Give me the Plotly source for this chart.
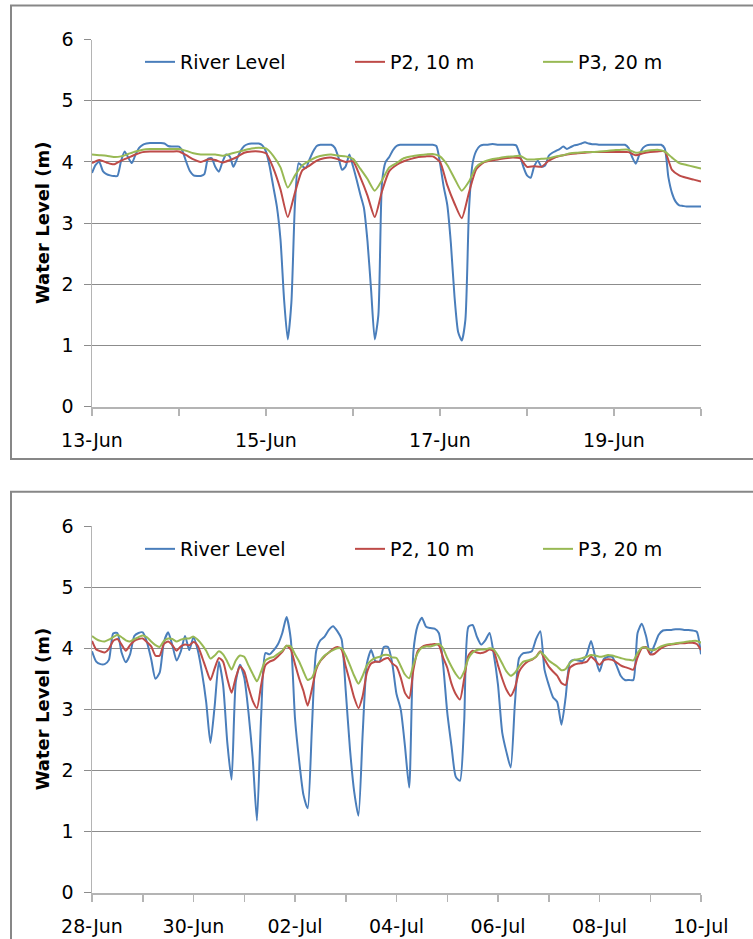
import pandas as pd
import plotly.graph_objects as go

# ---------------- Data: 13-Jun to 20-Jun ----------------
top_start = "2013-06-13"
top_river = [3.82, 3.95, 4.00, 3.85, 3.80, 3.78, 3.77, 3.77, 4.01, 4.17, 4.07,
             3.98, 4.12, 4.23, 4.28, 4.30, 4.31, 4.31, 4.31, 4.31, 4.30,
             4.26, 4.25, 4.25, 4.25, 4.17, 4.00, 3.85, 3.78, 3.77, 3.77,
             3.80, 4.05, 4.06, 3.92, 3.84, 4.00, 4.12, 4.09, 3.92, 4.05,
             4.18, 4.26, 4.29, 4.30, 4.30, 4.30, 4.27, 4.17, 3.93, 3.60,
             3.27, 2.73, 1.74, 1.10, 1.70, 3.33, 3.98, 3.93, 3.90, 4.04,
             4.17, 4.26, 4.28, 4.28, 4.28, 4.28, 4.23, 4.07, 3.87, 3.93,
             4.12, 3.93, 3.71, 3.47, 3.25, 2.70, 1.90, 1.10, 1.50, 3.66,
             4.00, 4.08, 4.19, 4.26, 4.28, 4.28, 4.28, 4.28, 4.28, 4.28,
             4.28, 4.28, 4.28, 4.28, 4.26, 3.98, 3.60, 3.30, 2.67, 1.80,
             1.22, 1.08, 1.42, 3.22, 3.98, 4.18, 4.26, 4.28, 4.28, 4.29,
             4.29, 4.28, 4.28, 4.28, 4.28, 4.28, 4.27, 4.12, 3.92, 3.78,
             3.74, 3.93, 4.02, 3.92, 3.94, 4.10, 4.15, 4.18, 4.21, 4.25,
             4.21, 4.24, 4.27, 4.28, 4.30, 4.32, 4.30, 4.29, 4.29, 4.28,
             4.28, 4.28, 4.28, 4.28, 4.28, 4.28, 4.28, 4.23, 4.08, 3.97,
             4.12, 4.23, 4.27, 4.28, 4.28, 4.28, 4.28, 4.22, 3.75, 3.49,
             3.35, 3.29, 3.28, 3.27, 3.27, 3.27, 3.27, 3.27]
top_p2 = [3.98, 4.03, 3.99, 3.96, 4.02, 4.07, 4.12, 4.16, 4.17, 4.17, 4.17, 4.17, 4.17,
          4.11, 4.04, 4.00, 4.04, 4.03, 3.99, 4.03, 4.08, 4.15, 4.17, 4.17, 4.14,
          3.90, 3.55, 3.10, 3.50, 3.86, 3.94, 4.02, 4.06, 4.07, 4.04, 4.00, 4.01,
          3.75, 3.45, 3.10, 3.52, 3.85, 3.95, 4.01, 4.05, 4.08, 4.09, 4.09, 4.00,
          3.62, 3.32, 3.08, 3.50, 3.88, 3.99, 4.02, 4.04, 4.06, 4.07, 4.06, 3.92,
          3.93, 3.92, 4.02, 4.08, 4.11, 4.13, 4.14, 4.15, 4.16, 4.16, 4.16, 4.16,
          4.16, 4.16, 4.11, 4.14, 4.16, 4.17, 4.17, 3.87, 3.78, 3.74, 3.71, 3.68]
top_p3 = [4.12, 4.11, 4.10, 4.08, 4.09, 4.13, 4.17, 4.20, 4.21, 4.21, 4.21, 4.21, 4.21,
          4.18, 4.14, 4.12, 4.12, 4.12, 4.10, 4.13, 4.16, 4.19, 4.22, 4.23, 4.22,
          4.10, 3.91, 3.58, 3.78, 3.94, 4.02, 4.08, 4.11, 4.12, 4.10, 4.09, 4.05,
          3.89, 3.72, 3.53, 3.70, 3.91, 3.98, 4.06, 4.09, 4.11, 4.12, 4.13, 4.09,
          3.95, 3.73, 3.53, 3.68, 3.92, 4.00, 4.04, 4.06, 4.08, 4.09, 4.10, 4.04,
          4.04, 4.05, 4.06, 4.09, 4.11, 4.14, 4.15, 4.16, 4.16, 4.17, 4.18, 4.19,
          4.20, 4.20, 4.15, 4.17, 4.19, 4.20, 4.17, 4.07, 3.98, 3.95, 3.92, 3.89]

# ---------------- Data: 28-Jun to 10-Jul ----------------
bot_start = "2013-06-28"
bot_river = [3.95, 3.78, 3.74, 3.74, 3.81, 4.24, 4.25, 3.93, 3.77, 3.90,
             4.20, 4.25, 4.26, 4.10, 3.82, 3.50, 3.60, 4.10, 4.26, 4.05,
             3.80, 3.95, 4.20, 3.97, 4.18, 3.97, 3.60, 3.12, 2.45, 3.05,
             3.78, 3.40, 2.45, 1.85, 3.45, 3.73, 3.52, 2.95, 2.20, 1.18,
             2.90, 3.92, 3.90, 3.97, 4.07, 4.25, 4.51, 4.15, 2.85, 2.15,
             1.60, 1.38, 2.70, 3.95, 4.13, 4.19, 4.30, 4.36, 4.28, 4.15,
             3.30, 2.35, 1.65, 1.26, 2.60, 3.75, 3.97, 3.79, 3.78, 4.02,
             4.02, 3.75, 3.25, 3.00, 2.40, 1.72, 3.95, 4.37, 4.50, 4.35,
             4.33, 4.32, 4.25, 3.75, 2.95, 2.40, 1.90, 1.83, 2.80, 4.35,
             4.38, 4.19, 4.06, 4.13, 4.25, 3.90, 3.40, 2.62, 2.30, 2.05,
             3.10, 3.84, 3.92, 3.93, 3.95, 4.15, 4.28, 3.65, 3.40, 3.20,
             3.12, 2.75, 3.20, 3.77, 3.81, 3.80, 3.79, 3.90, 4.12, 3.85,
             3.62, 3.82, 3.86, 3.86, 3.72, 3.55, 3.48, 3.48, 3.48, 4.25,
             4.40, 4.20, 3.90, 4.05, 4.22, 4.29, 4.30, 4.30, 4.31, 4.31,
             4.30, 4.30, 4.29, 4.27, 3.90]
bot_p2 = [4.12, 3.98, 3.95, 3.93, 3.99, 4.12, 4.15, 4.06, 3.96, 4.05,
          4.12, 4.15, 4.16, 4.10, 4.03, 3.88, 3.88, 4.07, 4.11, 4.05,
          3.96, 4.03, 4.06, 4.05, 4.10, 4.04, 3.86, 3.66, 3.48, 3.67,
          3.84, 3.78, 3.50, 3.27, 3.52, 3.70, 3.62, 3.36, 3.14, 3.02,
          3.40, 3.72, 3.78, 3.81, 3.87, 3.94, 4.04, 3.98, 3.74, 3.50,
          3.30, 3.06, 3.33, 3.65, 3.79, 3.87, 3.93, 3.99, 4.02, 3.98,
          3.70, 3.45, 3.19, 3.02, 3.22, 3.60, 3.75, 3.78, 3.78, 3.82,
          3.84, 3.75, 3.70, 3.52, 3.27, 3.18, 3.65, 3.95, 4.02, 4.05,
          4.06, 4.07, 4.05, 3.85, 3.68, 3.42, 3.25, 3.16, 3.50, 3.88,
          3.96, 3.93, 3.92, 3.94, 3.98, 3.95, 3.72, 3.50, 3.32, 3.22,
          3.35, 3.62, 3.72, 3.78, 3.81, 3.86, 3.95, 3.82, 3.70, 3.62,
          3.55, 3.43, 3.40, 3.68, 3.73, 3.75, 3.76, 3.78, 3.86, 3.80,
          3.73, 3.80, 3.82, 3.81, 3.77, 3.72, 3.69, 3.67, 3.65, 3.85,
          4.00, 4.02, 3.90, 3.91, 3.97, 4.02, 4.05, 4.06, 4.07, 4.08,
          4.08, 4.09, 4.09, 4.07, 3.97]
bot_p3 = [4.20, 4.15, 4.12, 4.11, 4.14, 4.18, 4.22, 4.18, 4.13, 4.11,
          4.15, 4.18, 4.21, 4.18, 4.11, 4.05, 4.02, 4.12, 4.16, 4.15,
          4.11, 4.14, 4.16, 4.16, 4.19, 4.14, 4.06, 3.96, 3.83, 3.88,
          3.95, 3.90, 3.78, 3.65, 3.80, 3.88, 3.86, 3.72, 3.58, 3.46,
          3.62, 3.80, 3.84, 3.86, 3.91, 3.96, 4.04, 4.03, 3.90, 3.78,
          3.62, 3.48, 3.52, 3.68, 3.80, 3.88, 3.93, 3.97, 4.00, 4.00,
          3.88, 3.72, 3.55, 3.42, 3.55, 3.72, 3.80, 3.84, 3.86, 3.89,
          3.89, 3.85, 3.84, 3.71, 3.57, 3.51, 3.73, 3.92, 4.01, 4.03,
          4.03, 4.05, 4.07, 4.00, 3.84, 3.70, 3.58, 3.50, 3.62, 3.83,
          3.93, 3.97, 3.98, 3.98, 4.00, 3.98, 3.88, 3.75, 3.62, 3.55,
          3.60, 3.70, 3.78, 3.80, 3.82, 3.86, 3.94, 3.88, 3.80, 3.75,
          3.70, 3.64, 3.66, 3.76, 3.81, 3.82, 3.84, 3.86, 3.89, 3.88,
          3.86, 3.87, 3.89, 3.88, 3.86, 3.84, 3.82, 3.81, 3.80, 3.92,
          4.01, 4.01, 3.97, 3.97, 4.01, 4.04, 4.06, 4.07, 4.08, 4.09,
          4.10, 4.11, 4.12, 4.12, 4.09]

series_names = ["River Level", "P2, 10 m", "P3, 20 m"]
series_colors = ["#4A7EBB", "#BE4B48", "#98B954"]

# ---------------- Times ----------------
t_top_river = pd.date_range(top_start, periods=len(top_river), freq="h")
t_top_p = pd.date_range(top_start, periods=len(top_p2), freq="2h")
t_bot = pd.date_range(bot_start, periods=len(bot_river), freq="2h")

W, H = 753, 939
def px_x(p):
    return p / W
def px_y(p):
    return 1 - p / H

fig = go.Figure()

legend_x = [140, 350, 538]
legend_names = [["legend", "legend2", "legend3"], ["legend4", "legend5", "legend6"]]

panels = [
    dict(xa="x", ya="y", data=[(t_top_river, top_river), (t_top_p, top_p2), (t_top_p, top_p3)], leg=legend_names[0]),
    dict(xa="x2", ya="y2", data=[(t_bot, bot_river), (t_bot, bot_p2), (t_bot, bot_p3)], leg=legend_names[1]),
]
for p in panels:
    for (t, v), name, col, lg in zip(p["data"], series_names, series_colors, p["leg"]):
        fig.add_trace(go.Scatter(x=t, y=v, mode="lines", name=name,
                                 line=dict(color=col, width=2, shape="spline", smoothing=0.6),
                                 xaxis=p["xa"], yaxis=p["ya"], legend=lg))

font_family = "DejaVu Sans"
grid_col = "#8C8C8C"
axis_col = "#B4B4B4"

# panel geometry in px
top_y0, top_y1 = 39.5, 406.7
bot_y0, bot_y1 = 526.0, 892.7
x0, x1 = 92.0, 701.0

day_ms = 86400000

def yaxis_cfg(dom, anchor):
    return dict(domain=dom, range=[0, 6], dtick=1, tick0=0, showgrid=True,
                gridcolor=grid_col, gridwidth=1, zeroline=False,
                showline=True, linecolor=axis_col, linewidth=1.5,
                ticks="outside", ticklen=7, tickcolor=grid_col,
                tickfont=dict(family=font_family, size=19, color="#000000"),
                ticklabelstandoff=6, anchor=anchor, automargin=False, fixedrange=True)

def xaxis_cfg(rng, t0, anchor):
    return dict(domain=[px_x(x0), px_x(x1)], type="date", range=rng, tick0=t0,
                dtick=2 * day_ms, tickformat="%d-%b", showgrid=False, zeroline=False,
                showline=True, linecolor=axis_col, linewidth=2,
                ticks="outside", ticklen=7, tickcolor=axis_col, tickwidth=1.5,
                minor=dict(dtick=day_ms, ticks="outside", ticklen=7, tickcolor=axis_col,
                           tickwidth=1.5, showgrid=False),
                tickfont=dict(family=font_family, size=19, color="#000000"),
                ticklabelstandoff=8, anchor=anchor, automargin=False, fixedrange=True)

layout = dict(
    width=W, height=H,
    template="none",
    margin=dict(l=0, r=0, t=0, b=0, pad=0, autoexpand=False),
    paper_bgcolor="white", plot_bgcolor="white",
    showlegend=True,
    xaxis=xaxis_cfg(["2013-06-13", "2013-06-20"], "2013-06-13", "y"),
    yaxis=yaxis_cfg([px_y(top_y1), px_y(top_y0)], "x"),
    xaxis2=xaxis_cfg(["2013-06-28", "2013-07-10"], "2013-06-28", "y2"),
    yaxis2=yaxis_cfg([px_y(bot_y1), px_y(bot_y0)], "x2"),
)
leg_y = [62, 549]
for row, names in enumerate(legend_names):
    for k, ln in enumerate(names):
        layout[ln] = dict(orientation="h", x=px_x(legend_x[k]), xanchor="left",
                          y=px_y(leg_y[row]), yanchor="middle",
                          bgcolor="rgba(0,0,0,0)", borderwidth=0,
                          font=dict(family=font_family, size=19, color="#000000"))
fig.update_layout(**layout)

# y-axis titles
for (ya, yb) in [(top_y0, top_y1), (bot_y0, bot_y1)]:
    fig.add_annotation(text="<b>Water Level (m)</b>", textangle=-90,
                       x=px_x(42), y=px_y((ya + yb) / 2), xref="paper", yref="paper",
                       xanchor="center", yanchor="middle", showarrow=False,
                       font=dict(family=font_family, size=18, color="#000000"))

# chart-area borders
fig.add_shape(type="rect", xref="paper", yref="paper",
              x0=px_x(11), x1=px_x(770), y0=px_y(459), y1=px_y(5.5),
              line=dict(color="#878787", width=2), layer="below")
fig.add_shape(type="rect", xref="paper", yref="paper",
              x0=px_x(11), x1=px_x(770), y0=px_y(960), y1=px_y(491.7),
              line=dict(color="#878787", width=2), layer="below")

fig.write_html("out.html",
               config={"displayModeBar": False, "staticPlot": True},
               post_script="document.body.style.margin='0px';"
                           "document.body.style.overflow='hidden';")
